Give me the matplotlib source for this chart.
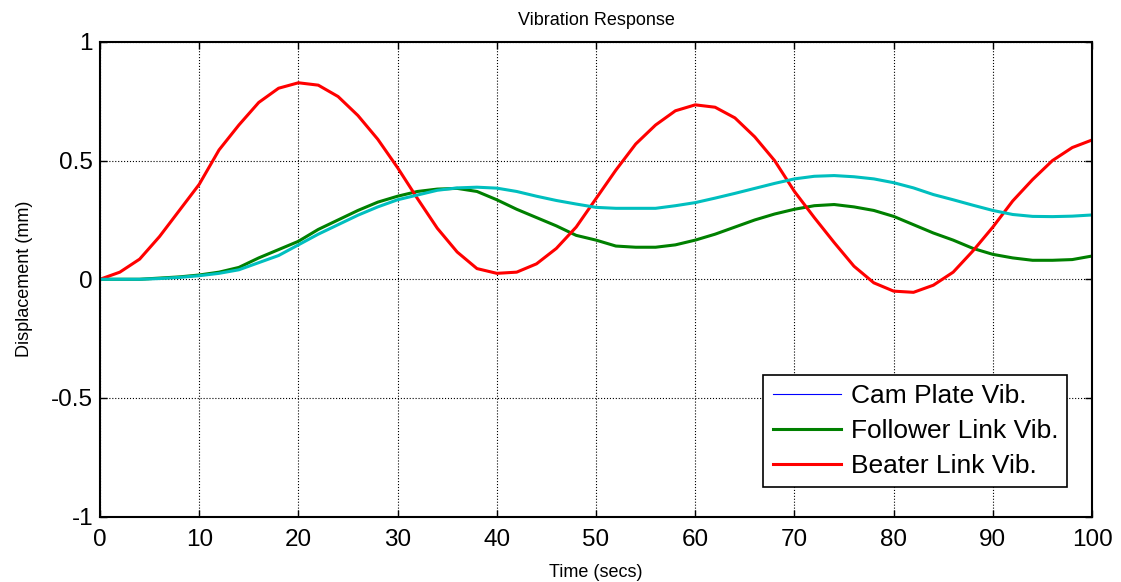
import numpy as np
import matplotlib
matplotlib.use('Agg')
from matplotlib import pyplot as plt

plt.rcParams['font.family'] = ['Liberation Sans', 'DejaVu Sans']
plt.rcParams['axes.unicode_minus'] = False

# time samples (secs)
t = np.arange(0, 101, 2)

# displacement readings (mm)
cam_plate = [0.0, 0.0, 0.0, 0.003, 0.008, 0.015, 0.025, 0.04, 0.07, 0.10,
             0.145, 0.19, 0.23, 0.27, 0.305, 0.335, 0.355, 0.375, 0.385, 0.388,
             0.384, 0.37, 0.35, 0.332, 0.317, 0.303, 0.299, 0.299, 0.299, 0.31,
             0.323, 0.342, 0.362, 0.383, 0.404, 0.423, 0.434, 0.437, 0.432, 0.423,
             0.407, 0.385, 0.357, 0.335, 0.312, 0.29, 0.273, 0.265, 0.264, 0.266,
             0.271]
follower = [0.0, 0.0, 0.0, 0.005, 0.01, 0.018, 0.03, 0.05, 0.09, 0.125,
            0.16, 0.21, 0.25, 0.29, 0.325, 0.35, 0.37, 0.38, 0.383, 0.37,
            0.335, 0.295, 0.26, 0.225, 0.185, 0.165, 0.14, 0.135, 0.135, 0.145,
            0.165, 0.19, 0.22, 0.25, 0.275, 0.295, 0.31, 0.315, 0.305, 0.29,
            0.265, 0.23, 0.195, 0.165, 0.13, 0.105, 0.09, 0.08, 0.08, 0.083,
            0.098]
beater = [0.0, 0.03, 0.085, 0.18, 0.29, 0.40, 0.545, 0.65, 0.745, 0.805,
          0.828, 0.818, 0.77, 0.69, 0.59, 0.47, 0.34, 0.215, 0.115, 0.045,
          0.025, 0.03, 0.065, 0.13, 0.22, 0.34, 0.46, 0.57, 0.65, 0.71,
          0.735, 0.725, 0.68, 0.60, 0.50, 0.37, 0.26, 0.155, 0.055, -0.015,
          -0.05, -0.055, -0.025, 0.03, 0.12, 0.22, 0.33, 0.42, 0.50, 0.555,
          0.587]

fig = plt.figure(figsize=(11.21, 5.82), dpi=100)
ax = fig.add_axes([0.0892, 0.1124, 0.885, 0.8155])

ax.plot(t, cam_plate, color='blue', lw=0.8, label='Cam Plate Vib.')
ax.plot(t, follower, color='green', lw=2.2, label='Follower Link Vib.')
ax.plot(t, beater, color='red', lw=2.2, label='Beater Link Vib.')
ax.plot(t, cam_plate, color='#00bfbf', lw=2.2)

ax.set_xlim(0, 100)
ax.set_ylim(-1, 1)
ax.set_xticks(np.arange(0, 101, 10))
ax.set_yticks([-1, -0.5, 0, 0.5, 1])
ax.set_yticklabels(['-1', '-0.5', '0', '0.5', '1'])
ax.grid(True, color='black', linestyle=':', linewidth=0.8)
ax.tick_params(direction='in', top=True, right=True, length=5, width=1,
               labelsize=17.5)
ax.tick_params(axis='x', pad=9)
ax.tick_params(axis='y', pad=5)
for s in ax.spines.values():
    s.set_linewidth(1.5)

ax.set_title('Vibration Response', fontsize=13, pad=12)
ax.set_xlabel('Time (secs)', fontsize=13, labelpad=9)
ax.set_ylabel('Displacement (mm)', fontsize=13, labelpad=13)

leg = ax.legend(loc='lower right', bbox_to_anchor=(0.975, 0.062), fontsize=19,
                fancybox=False, framealpha=1, edgecolor='black',
                borderaxespad=0, handlelength=2.6, labelspacing=0.42,
                borderpad=0.35, handletextpad=0.35)
leg.get_frame().set_linewidth(1.2)

fig.savefig('out.png', dpi=100)
